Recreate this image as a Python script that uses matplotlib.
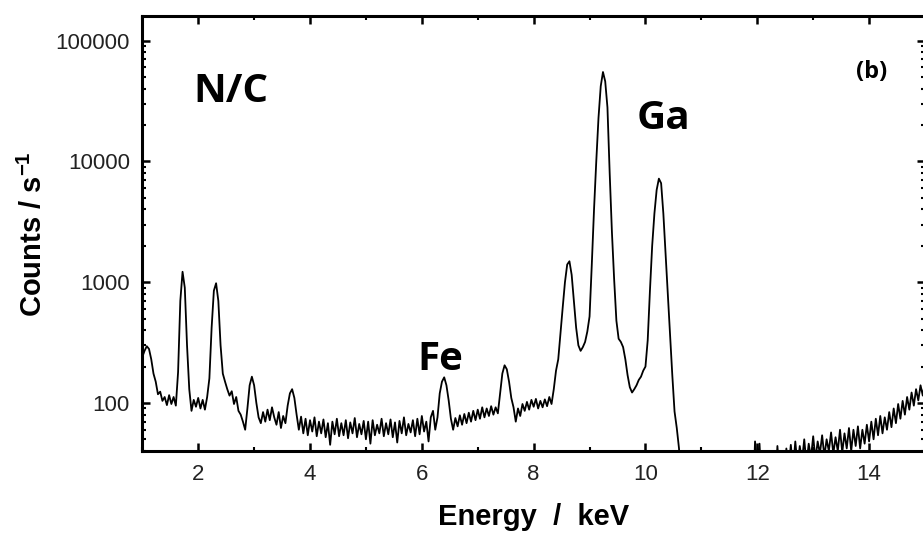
import numpy as np
import matplotlib
matplotlib.use("Agg")
import matplotlib.pyplot as plt
from matplotlib.ticker import LogLocator, NullFormatter, MultipleLocator

plt.rcParams["font.family"] = "Liberation Sans"
plt.rcParams["mathtext.fontset"] = "custom"
plt.rcParams["mathtext.rm"] = "Liberation Sans"
plt.rcParams["mathtext.default"] = "regular"

# EDX spectrum: one value every 0.04 keV, 1.00 .. 15.00
e_start = 1.0
e_step = 0.04
counts = [
    240, 270, 295, 280, 230, 175, 150, 118, 124, 104,      # 1.00
    112, 96, 116, 98, 112, 95, 180, 700, 1220, 900,        # 1.40
    300, 130, 86, 106, 93, 110, 90, 106, 88, 112,          # 1.80
    160, 420, 850, 980, 700, 300, 175, 150, 130, 115,      # 2.20
    125, 98, 112, 86, 80, 70, 60, 90, 140, 165,            # 2.60
    140, 100, 76, 68, 84, 70, 88, 72, 92, 76,              # 3.00
    66, 84, 62, 78, 68, 95, 120, 130, 110, 80,             # 3.40
    60, 77, 56, 74, 54, 72, 58, 76, 53, 70,                # 3.80
    56, 73, 52, 68, 45, 70, 55, 74, 53, 68,                # 4.20
    54, 72, 51, 69, 56, 75, 52, 67, 55, 71,                # 4.60
    50, 70, 46, 72, 54, 66, 56, 74, 53, 68,                # 5.00
    55, 73, 52, 69, 47, 71, 56, 76, 54, 67,                # 5.40
    57, 72, 53, 74, 55, 78, 58, 70, 48, 76,                # 5.80
    86, 60, 76, 120, 150, 163, 140, 105, 74, 60,           # 6.20
    75, 64, 79, 66, 81, 68, 83, 70, 86, 72,                # 6.60
    88, 74, 92, 76, 90, 78, 94, 80, 92, 82,                # 7.00
    120, 175, 205, 190, 150, 110, 92, 70, 90, 78,          # 7.40
    98, 86, 102, 88, 106, 93, 108, 90, 104, 92,            # 7.80
    107, 94, 112, 98, 130, 185, 230, 380, 620, 1000,       # 8.20
    1400, 1490, 1150, 700, 420, 300, 270, 290, 320, 390,   # 8.60
    520, 1400, 4000, 10000, 23000, 42000, 55000, 46000, 28000, 8000,  # 9.00
    2600, 1050, 480, 340, 320, 290, 230, 170, 135, 122,    # 9.40
    130, 140, 155, 165, 185, 200, 330, 850, 2000, 3700,    # 9.80
    5800, 7200, 6600, 3700, 1700, 800, 360, 170, 85, 62,   # 10.20
    42, 20, 15, 15, 15, 15, 15, 15, 15, 15,                # 10.60
    15, 15, 15, 15, 15, 15, 15, 15, 15, 15,                # 11.00
    15, 15, 15, 15, 15, 15, 15, 15, 15, 15,                # 11.40
    15, 15, 15, 15, 48, 30, 46, 20, 15, 15,                # 11.80
    15, 15, 15, 20, 44, 25, 38, 22, 42, 28,                # 12.20
    45, 28, 48, 30, 44, 33, 50, 31, 46, 35,                # 12.60
    53, 34, 48, 38, 54, 36, 50, 40, 57, 38,                # 13.00
    52, 40, 60, 39, 56, 42, 62, 40, 60, 44,                # 13.40
    64, 42, 60, 46, 66, 48, 70, 50, 74, 54,                # 13.80
    78, 56, 76, 60, 84, 63, 90, 68, 98, 74,                # 14.20
    104, 80, 112, 88, 122, 95, 130, 105, 140, 115,         # 14.60
    150,                                                   # 15.00
]
energy = e_start + e_step * np.arange(len(counts))

x_ticks = [2, 4, 6, 8, 10, 12, 14]
y_ticks = [100, 1000, 10000, 100000]
y_tick_labels = ["100", "1000", "10000", "100000"]

# element labels (text, energy, counts at baseline, size)
labels = [
    ("N/C", 1.91, 31000, 29),
    ("Ga", 9.85, 18700, 29),
    ("Fe", 5.92, 186, 29),
    ("(b)", 13.76, 49000, 17),
]

W, H = 923, 533
fig = plt.figure(figsize=(W / 100, H / 100), dpi=100)
ax = fig.add_axes([142.3 / W, 82 / H, (925 - 142.3) / W, (451 - 16) / H])

ax.plot(energy, counts, color="black", linewidth=1.3)

ax.set_yscale("log")
ax.set_xlim(1, 15)
ax.set_ylim(40, 160000)

ax.set_xticks(x_ticks)
ax.xaxis.set_minor_locator(MultipleLocator(1))
ax.set_yticks(y_ticks)
ax.set_yticklabels(y_tick_labels)
ax.yaxis.set_minor_locator(LogLocator(base=10, subs=np.arange(2, 10)))
ax.yaxis.set_minor_formatter(NullFormatter())

for s in ax.spines.values():
    s.set_linewidth(2.2)

ax.tick_params(which="both", direction="in", top=True, right=True,
               labelsize=16, labelcolor="#222222")
ax.tick_params(which="major", length=6, width=1.8, pad=9)
ax.tick_params(which="minor", length=3, width=1.5)

for txt, ex, cy, fs in labels:
    ax.text(ex, cy, txt, fontsize=fs, fontweight="bold", family="Open Sans",
            ha="left", va="baseline")

fig.text(534 / W, 1 - 525 / H, "Energy  /  keV", fontsize=21,
         fontweight="bold", ha="center", va="baseline")
fig.text(33 / W, 1 - 234 / H, "Counts / s$^{-1}$", fontsize=21,
         fontweight="bold", rotation=90, ha="center", va="center")

fig.savefig("out.png", dpi=100)
